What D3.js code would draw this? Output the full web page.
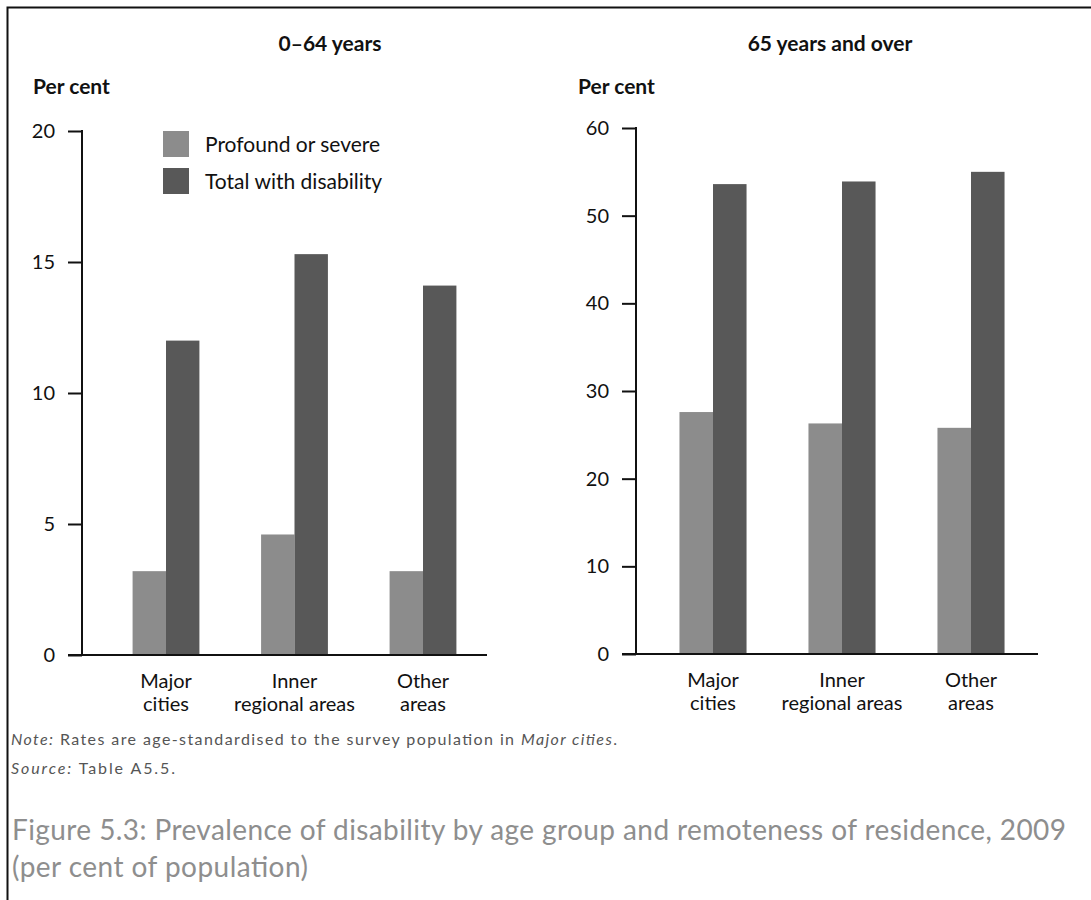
<!DOCTYPE html>
<html>
<head>
<meta charset="utf-8">
<script src="https://cdn.jsdelivr.net/npm/d3@7"></script>
<style>
  html, body { margin: 0; padding: 0; background: #fff; }
  svg { display: block; }
  text { font-family: Lato, "Open Sans", sans-serif; }
</style>
</head>
<body>
<svg id="chart" width="1091" height="900"></svg>
<script>
// ---- data ----
const categories = ["Major cities", "Inner regional areas", "Other areas"];
const categoryLines = [["Major", "cities"], ["Inner", "regional areas"], ["Other", "areas"]];
const seriesNames = ["Profound or severe", "Total with disability"];
const young_profound = [3.2, 4.6, 3.2];
const young_total = [12.0, 15.3, 14.1];
const old_profound = [27.6, 26.3, 25.8];
const old_total = [53.6, 53.9, 55.0];
const young_ticks = [0, 5, 10, 15, 20];
const old_ticks = [0, 10, 20, 30, 40, 50, 60];
const panelTitles = ["0–64 years", "65 years and over"];
const colors = ["#8c8c8c", "#585858"];

const svg = d3.select("#chart");

// outer frame (top and left edges)
svg.append("path")
  .attr("d", "M7.5,900 L7.5,7.5 L1091,7.5")
  .attr("fill", "none").attr("stroke", "#111").attr("stroke-width", 2);

function panel(cfg) {
  const g = svg.append("g");
  const y = d3.scaleLinear().domain([0, cfg.max]).range([cfg.y0, cfg.yTop]);
  const x = d3.scaleBand().domain(categories).range(cfg.xRange)
    .paddingInner(0.48).paddingOuter(0.24);
  const xs = d3.scaleBand().domain(seriesNames).range([0, x.bandwidth()]);

  // title
  g.append("text").attr("x", cfg.titleX).attr("y", 51)
    .attr("text-anchor", "middle").attr("font-weight", "bold")
    .attr("font-size", 21).attr("fill", "#111").text(cfg.title);
  g.append("text").attr("x", cfg.perX).attr("y", 94)
    .attr("font-weight", "bold").attr("font-size", 21).attr("fill", "#111").text("Per cent");

  // bars
  const rows = categories.map((c, i) => ({ c, vals: [cfg.a[i], cfg.b[i]] }));
  rows.forEach(r => {
    r.vals.forEach((v, j) => {
      g.append("rect")
        .attr("x", x(r.c) + xs(seriesNames[j]))
        .attr("y", y(v))
        .attr("width", xs.bandwidth())
        .attr("height", y(0) - y(v))
        .attr("fill", colors[j]);
    });
  });

  // y axis
  const yAxis = d3.axisLeft(y).tickValues(cfg.ticks).tickSize(14).tickPadding(13);
  const ya = g.append("g").attr("transform", `translate(${cfg.axisX},0)`).call(yAxis);
  ya.select(".domain").remove();
  ya.selectAll(".tick line").attr("stroke", "#111").attr("stroke-width", 2);
  ya.selectAll(".tick text").attr("font-size", 20).attr("fill", "#111")
    .attr("font-family", "Lato, 'Open Sans', sans-serif");
  g.append("line").attr("x1", cfg.axisX).attr("x2", cfg.axisX)
    .attr("y1", y(cfg.max) - 1).attr("y2", y(0))
    .attr("stroke", "#111").attr("stroke-width", 2);
  // x axis baseline
  g.append("line").attr("x1", cfg.axisX - 14).attr("x2", cfg.xEnd)
    .attr("y1", y(0)).attr("y2", y(0))
    .attr("stroke", "#111").attr("stroke-width", 2);

  // category labels
  categories.forEach((c, i) => {
    const cx = x(c) + x.bandwidth() / 2;
    categoryLines[i].forEach((ln, k) => {
      g.append("text").attr("x", cx).attr("y", y(0) + 33 + k * 22.5)
        .attr("text-anchor", "middle").attr("font-size", 20).attr("fill", "#111").text(ln);
    });
  });
  return g;
}

panel({
  title: panelTitles[0], titleX: 330, perX: 33,
  max: 20, ticks: young_ticks, y0: 655, yTop: 131,
  axisX: 82, xRange: [101.75, 487.25], xEnd: 487,
  a: young_profound, b: young_total
});

panel({
  title: panelTitles[1], titleX: 830, perX: 578,
  max: 60, ticks: old_ticks, y0: 654, yTop: 128,
  axisX: 636, xRange: [648.5, 1035.5], xEnd: 1038,
  a: old_profound, b: old_total
});

// legend
const lg = svg.append("g");
seriesNames.forEach((s, i) => {
  lg.append("rect").attr("x", 163).attr("y", 131 + i * 37).attr("width", 26).attr("height", 26)
    .attr("fill", colors[i]);
  lg.append("text").attr("x", 205).attr("y", 152 + i * 37).attr("font-size", 21)
    .attr("fill", "#111").text(s);
});

// note & source
const note = svg.append("text").attr("x", 11).attr("y", 745).attr("font-size", 16).attr("fill", "#555")
  .attr("textLength", 606).attr("lengthAdjust", "spacing");
note.append("tspan").attr("font-style", "italic").text("Note:");
note.append("tspan").text(" Rates are age-standardised to the survey population in ");
note.append("tspan").attr("font-style", "italic").text("Major cities");
note.append("tspan").text(".");
const src = svg.append("text").attr("x", 11).attr("y", 774).attr("font-size", 16).attr("fill", "#555")
  .attr("textLength", 164).attr("lengthAdjust", "spacing");
src.append("tspan").attr("font-style", "italic").text("Source:");
src.append("tspan").text(" Table A5.5.");

// caption
svg.append("text").attr("x", 12).attr("y", 840).attr("font-size", 28).attr("fill", "#8e8e8e")
  .attr("textLength", 1054).attr("lengthAdjust", "spacing")
  .text("Figure 5.3: Prevalence of disability by age group and remoteness of residence, 2009");
svg.append("text").attr("x", 12).attr("y", 877).attr("font-size", 28).attr("fill", "#8e8e8e")
  .attr("textLength", 296).attr("lengthAdjust", "spacing")
  .text("(per cent of population)");
</script>
</body>
</html>
